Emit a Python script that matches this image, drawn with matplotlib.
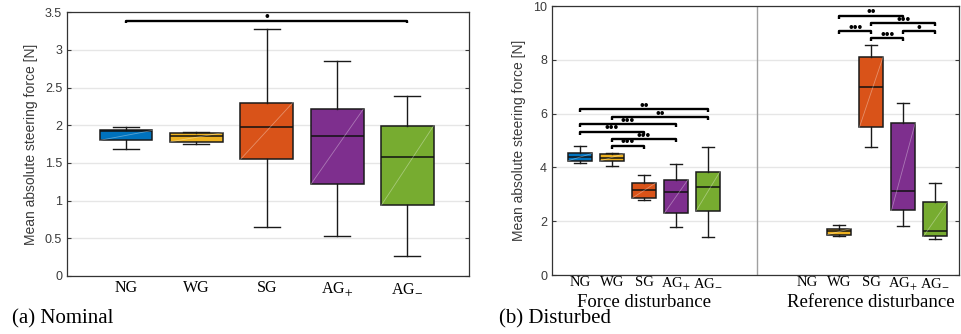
import matplotlib.pyplot as plt

plt.rcParams['mathtext.fontset'] = 'stix'

groups = ["NG", "WG", "SG", r"AG$_{+}$", r"AG$_{-}$"]
colors = ["#0072BD", "#EDB120", "#D95319", "#7E2F8E", "#77AC30"]

# nominal condition (low whisker, q1, median, q3, high whisker)
nom_low = [1.69, 1.75, 0.65, 0.53, 0.27]
nom_q1 = [1.80, 1.78, 1.55, 1.22, 0.94]
nom_med = [1.92, 1.86, 1.97, 1.86, 1.58]
nom_q3 = [1.93, 1.90, 2.30, 2.21, 1.99]
nom_high = [1.97, 1.91, 3.27, 2.85, 2.39]

# force disturbance
frc_low = [4.18, 4.05, 2.79, 1.77, 1.40]
frc_q1 = [4.25, 4.24, 2.86, 2.29, 2.39]
frc_med = [4.38, 4.37, 3.18, 3.09, 3.29]
frc_q3 = [4.52, 4.51, 3.43, 3.54, 3.84]
frc_high = [4.80, 4.53, 3.73, 4.14, 4.76]

# reference disturbance (no NG box)
ref_low = [1.45, 4.77, 1.81, 1.34]
ref_q1 = [1.50, 5.50, 2.40, 1.44]
ref_med = [1.64, 6.98, 3.13, 1.64]
ref_q3 = [1.73, 8.12, 5.64, 2.70]
ref_high = [1.86, 8.56, 6.39, 3.44]

# significance brackets: (group i, group j, height, stars)
nom_sig = [(0, 4, 3.385, 1)]
frc_sig = [(0, 4, 6.16, 2), (1, 4, 5.87, 2), (0, 3, 5.61, 3),
           (0, 2, 5.33, 3), (1, 3, 5.05, 3), (1, 2, 4.80, 3)]
ref_sig = [(1, 3, 9.64, 2), (2, 4, 9.36, 3), (1, 2, 9.07, 3),
           (3, 4, 9.07, 1), (2, 3, 8.80, 3)]

serif = "Liberation Serif"
tick_gray = "#3a3a3a"


def draw_boxes(ax, pos, low, q1, med, q3, high, cols):
    stats = []
    for lo, a, m, b, hi in zip(low, q1, med, q3, high):
        stats.append(dict(whislo=lo, q1=a, med=m, q3=b, whishi=hi, fliers=[]))
    bp = ax.bxp(stats, positions=pos, widths=0.75, capwidths=0.37,
                patch_artist=True, showfliers=False, manage_ticks=False,
                boxprops=dict(edgecolor="#1a1a1a", linewidth=1.1),
                medianprops=dict(color="#111111", linewidth=1.1),
                whiskerprops=dict(color="#1a1a1a", linewidth=1.0),
                capprops=dict(color="#1a1a1a", linewidth=1.0))
    for patch, c in zip(bp["boxes"], cols):
        patch.set_facecolor(c)
    for p, a, b in zip(pos, q1, q3):
        ax.plot([p - 0.37, p + 0.37], [a, b], color="white", alpha=0.35,
                lw=0.6, zorder=3)


def draw_sig(ax, pos, sig, tick):
    for i, j, y, n in sig:
        x0, x1 = pos[i], pos[j]
        ax.plot([x0, x0, x1, x1], [y - tick, y, y, y - tick], color="black",
                lw=1.7, solid_capstyle="butt", clip_on=False, zorder=4)
        ax.annotate("•" * n, xy=((x0 + x1) / 2, y), xytext=(0, -0.3),
                    textcoords="offset points", ha="center", va="baseline",
                    fontsize=10, family="Liberation Sans",
                    annotation_clip=False)


def style_axes(ax, pad):
    ax.tick_params(axis="y", direction="in", length=3, right=True,
                   labelsize=9, colors=tick_gray, labelcolor=tick_gray)
    ax.tick_params(axis="x", length=0, pad=pad)
    for lab in ax.get_yticklabels():
        lab.set_family("Liberation Sans")
    ax.yaxis.grid(True, color="#e6e6e6", lw=1.0)
    ax.set_axisbelow(True)
    for s in ax.spines.values():
        s.set_color("#333333")
        s.set_linewidth(0.9)
    ax.set_ylabel("Mean absolute steering force [N]", fontsize=10,
                  color=tick_gray, family="Liberation Sans", labelpad=5)


fig = plt.figure(figsize=(9.61, 3.34), dpi=100)

# (a) nominal
ax1 = fig.add_axes([0.0697, 0.1737, 0.418, 0.790])
pos1 = [1, 2, 3, 4, 5]
draw_boxes(ax1, pos1, nom_low, nom_q1, nom_med, nom_q3, nom_high, colors)
ax1.set_xlim(0.16, 5.87)
ax1.set_ylim(0, 3.5)
ax1.set_yticks([0, 0.5, 1, 1.5, 2, 2.5, 3, 3.5])
ax1.set_yticklabels(["0", "0.5", "1", "1.5", "2", "2.5", "3", "3.5"])
ax1.set_xticks(pos1)
ax1.set_xticklabels(groups, family=serif, fontsize=11.5)
style_axes(ax1, 3)
draw_sig(ax1, pos1, nom_sig, 0.035)

# (b) disturbed
ax2 = fig.add_axes([0.5744, 0.1766, 0.4235, 0.805])
pos_f = [1, 2, 3, 4, 5]
pos_r = [9.1, 10.1, 11.1, 12.1]
pos_r_all = [8.1] + pos_r
draw_boxes(ax2, pos_f, frc_low, frc_q1, frc_med, frc_q3, frc_high, colors)
draw_boxes(ax2, pos_r, ref_low, ref_q1, ref_med, ref_q3, ref_high, colors[1:])
ax2.axvline(6.53, color="#a0a0a0", lw=1.0)
ax2.set_xlim(0.125, 12.84)
ax2.set_ylim(0, 10)
ax2.set_yticks([0, 2, 4, 6, 8, 10])
ax2.set_xticks(pos_f + pos_r_all)
ax2.set_xticklabels(groups + groups, family=serif, fontsize=10.5)
style_axes(ax2, 0.5)
draw_sig(ax2, pos_f, frc_sig, 0.11)
draw_sig(ax2, pos_r_all, ref_sig, 0.11)

ax2.text(3.0, -0.118, "Force disturbance", transform=ax2.get_xaxis_transform(),
         ha="center", va="baseline", family=serif, fontsize=13.5)
ax2.text(10.1, -0.118, "Reference disturbance", transform=ax2.get_xaxis_transform(),
         ha="center", va="baseline", family=serif, fontsize=13.5)

fig.text(12 / 961, 1 - 319 / 334, "(a) Nominal", ha="left", va="center",
         family=serif, fontsize=15)
fig.text(499 / 961, 1 - 319 / 334, "(b) Disturbed", ha="left", va="center",
         family=serif, fontsize=15)

fig.savefig("out.png", dpi=100)
